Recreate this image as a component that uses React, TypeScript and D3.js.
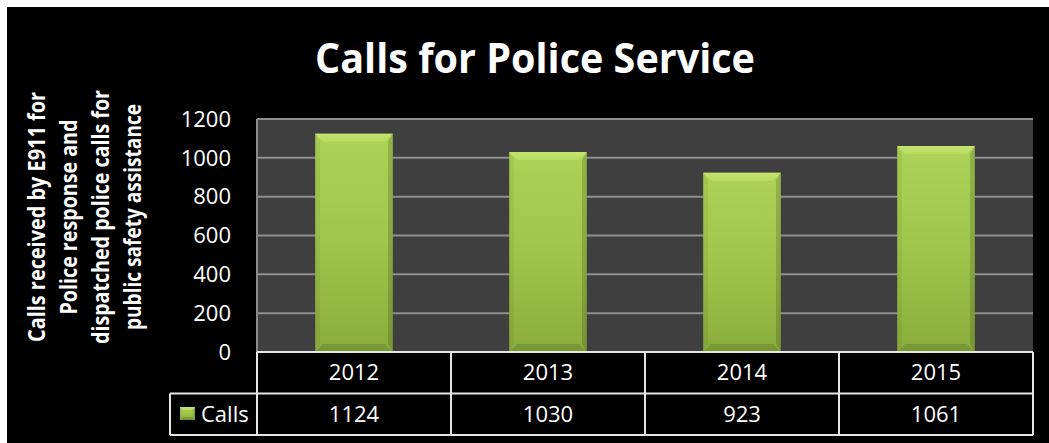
import React from "react";
import * as d3 from "d3";

const years = ["2012", "2013", "2014", "2015"];
const calls = [1124, 1030, 923, 1061];
const yTicks = [0, 200, 400, 600, 800, 1000, 1200];
const titleText = "Calls for Police Service";
const axisTitleLines = [
  "Calls received by E911 for",
  "Police response and",
  "dispatched police calls for",
  "public safety assistance",
];
const axisTitleWidths = [250, 195, 254, 226];
const seriesName = "Calls";

const W = 1049;
const H = 443;
const plot = { left: 257, right: 1033, top: 119, bottom: 352 };
const rowH = 41.5;
const font = "'Open Sans', 'Noto Sans', sans-serif";

const App: React.FC = () => {
  const x = d3.scaleBand<string>().domain(years).range([plot.left, plot.right]).padding(0);
  const y = d3.scaleLinear().domain([0, 1200]).range([plot.bottom, plot.top]);
  const bw = x.bandwidth() * 0.4;
  const b = 8;

  const bevelBar = (x0: number, y0: number, w: number, h: number, bev: number, key: string) => {
    const x1 = x0 + w;
    const y1 = y0 + h;
    const pts = (p: number[][]) => p.map(d => d.join(",")).join(" ");
    return (
      <g key={key}>
        <rect x={x0} y={y0} width={w} height={h} fill="url(#barFace)" />
        <polygon points={pts([[x0, y0], [x1, y0], [x1 - bev, y0 + bev], [x0 + bev, y0 + bev]])} fill="url(#barTop)" />
        <polygon points={pts([[x0, y0], [x0 + bev * 0.6, y0 + bev], [x0 + bev * 0.6, y1 - bev], [x0, y1]])} fill="#000" opacity={0.05} />
        <polygon points={pts([[x1, y0], [x1 - bev * 0.6, y0 + bev], [x1 - bev * 0.6, y1 - bev], [x1, y1]])} fill="#000" opacity={0.15} />
        <polygon points={pts([[x0, y1], [x0 + bev, y1 - bev], [x1 - bev, y1 - bev], [x1, y1]])} fill="#000" opacity={0.13} />
      </g>
    );
  };

  const row1 = plot.bottom;
  const row2 = plot.bottom + rowH;
  const row3 = plot.bottom + rowH * 2;
  const legendLeft = 170;
  const lineColor = "#e6e6e6";

  return (
    <svg width={W} height={H} style={{ position: "absolute", left: 0, top: 0 }} fontFamily={font}>
      <defs>
        <linearGradient id="barFace" x1="0" y1="0" x2="0" y2="1">
          <stop offset="0" stopColor="#acd356" />
          <stop offset="0.5" stopColor="#9fc64b" />
          <stop offset="1" stopColor="#8aad3c" />
        </linearGradient>
        <linearGradient id="barTop" x1="0" y1="0" x2="0" y2="1">
          <stop offset="0" stopColor="#c6e470" />
          <stop offset="1" stopColor="#b6db60" />
        </linearGradient>
      </defs>
      <rect x={0} y={0} width={W} height={H} fill="#fff" />
      <rect x={7} y={7} width={W - 7} height={H - 7} fill="#000" />

      <text
        x={535}
        y={73}
        fill="#fff"
        fontSize={42}
        fontWeight="bold"
        textAnchor="middle"
        textLength={440}
        lengthAdjust="spacingAndGlyphs"
      >
        {titleText}
      </text>

      {axisTitleLines.map((line, i) => (
        <text
          key={line}
          transform={`translate(${45 + i * 32}, 217) rotate(-90)`}
          fill="#fff"
          fontSize={24}
          fontWeight="bold"
          textAnchor="middle"
          textLength={axisTitleWidths[i]}
          lengthAdjust="spacingAndGlyphs"
        >
          {line}
        </text>
      ))}

      <rect x={plot.left} y={plot.top} width={plot.right - plot.left} height={plot.bottom - plot.top} fill="#3f3f3f" />
      {yTicks.slice(1).map(t => (
        <line key={t} x1={plot.left} x2={plot.right} y1={y(t)} y2={y(t)} stroke="#8f8f8f" strokeWidth={2} />
      ))}
      <line x1={plot.left} x2={plot.left} y1={plot.top} y2={plot.bottom} stroke="#8a8a8a" strokeWidth={2} />

      {yTicks.map(t => (
        <text key={t} x={231} y={y(t)} dy="0.35em" fill="#fff" fontSize={22} textAnchor="end">
          {t}
        </text>
      ))}

      {years.map((yr, i) =>
        bevelBar((x(yr) as number) + (x.bandwidth() - bw) / 2, y(calls[i]), bw, y(0) - y(calls[i]), b, yr)
      )}

      {/* data table */}
      <g stroke={lineColor} strokeWidth={2} fill="none">
        <line x1={plot.left} x2={plot.right} y1={row1} y2={row1} />
        <line x1={legendLeft} x2={plot.right} y1={row2} y2={row2} />
        <line x1={legendLeft} x2={plot.right} y1={row3} y2={row3} />
        <line x1={legendLeft} x2={legendLeft} y1={row2} y2={row3} />
        {years.map(yr => (
          <line key={yr} x1={x(yr)} x2={x(yr)} y1={row1} y2={row3} />
        ))}
        <line x1={plot.right} x2={plot.right} y1={row1} y2={row3} />
      </g>
      {years.map((yr, i) => (
        <g key={yr}>
          <text x={(x(yr) as number) + x.bandwidth() / 2} y={(row1 + row2) / 2} dy="0.35em" fill="#fff" fontSize={22} textAnchor="middle">
            {yr}
          </text>
          <text x={(x(yr) as number) + x.bandwidth() / 2} y={(row2 + row3) / 2} dy="0.35em" fill="#fff" fontSize={22} textAnchor="middle">
            {calls[i]}
          </text>
        </g>
      ))}
      {bevelBar(180, 407, 15, 13, 3, "legendKey")}
      <text x={201} y={(row2 + row3) / 2} dy="0.35em" fill="#fff" fontSize={22}>
        {seriesName}
      </text>
    </svg>
  );
};

export default App;
